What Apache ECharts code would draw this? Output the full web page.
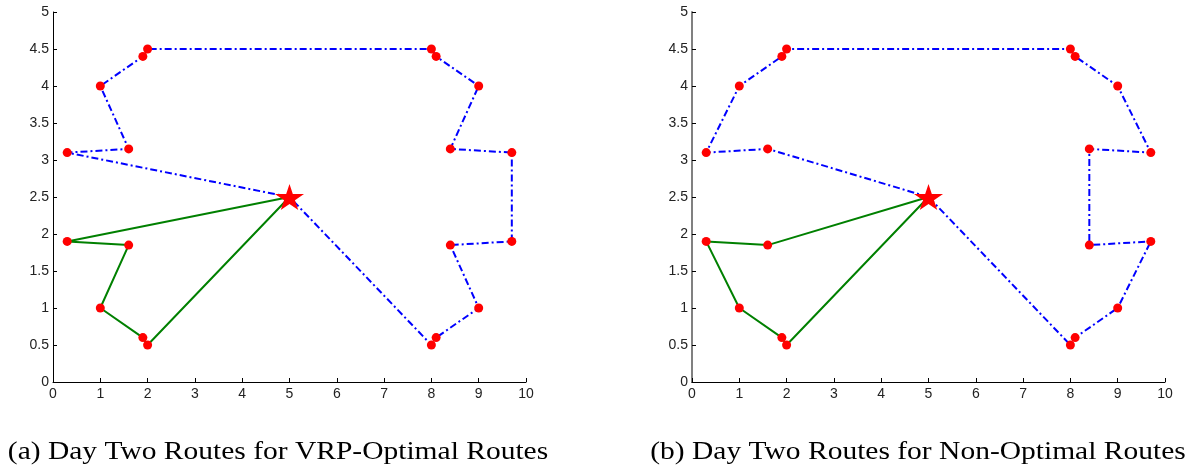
<!DOCTYPE html>
<html><head><meta charset="utf-8">
<script src="https://cdn.jsdelivr.net/npm/echarts@6/dist/echarts.min.js"></script>
<style>html,body{margin:0;padding:0;background:#fff}#c{width:1199px;height:470px}</style>
</head><body><div id="c"></div>
<script>
// Depot
const depot = [[5, 2.5]];
// (a) VRP-optimal routes
const optBlueRoute = [[5,2.5],[0.3,3.1],[1.6,3.15],[1,4],[1.9,4.4],[2,4.5],[8,4.5],[8.1,4.4],[9,4],[8.4,3.15],[9.7,3.1],[9.7,1.9],[8.4,1.85],[9,1],[8.1,0.6],[8,0.5],[5,2.5]];
const optGreenRoute = [[5,2.5],[0.3,1.9],[1.6,1.85],[1,1],[1.9,0.6],[2,0.5],[5,2.5]];
// (b) Non-optimal routes
const nonBlueRoute = [[5,2.5],[1.6,3.15],[0.3,3.1],[1,4],[1.9,4.4],[2,4.5],[8,4.5],[8.1,4.4],[9,4],[9.7,3.1],[8.4,3.15],[8.4,1.85],[9.7,1.9],[9,1],[8.1,0.6],[8,0.5],[5,2.5]];
const nonGreenRoute = [[5,2.5],[1.6,1.85],[0.3,1.9],[1,1],[1.9,0.6],[2,0.5],[5,2.5]];
// Customers (drawn as red dots)
const customers = [[0.3,3.1],[1.6,3.15],[1,4],[1.9,4.4],[2,4.5],[8,4.5],[8.1,4.4],[9,4],[8.4,3.15],[9.7,3.1],[9.7,1.9],[8.4,1.85],[9,1],[8.1,0.6],[8,0.5],[0.3,1.9],[1.6,1.85],[1,1],[1.9,0.6],[2,0.5]];
const captions = ['(a) Day Two Routes for VRP-Optimal Routes', '(b) Day Two Routes for Non-Optimal Routes'];

const starPath = 'path://M50,0 L61,35 L98,35 L68,57 L79,91 L50,70 L21,91 L32,57 L2,35 L39,35 Z';
const tickFont = {fontFamily: 'Liberation Sans, Arial, sans-serif', fontSize: 14, color: '#222'};

function xAx(i){return {gridIndex:i,type:'value',min:0,max:10,interval:1,splitLine:{show:false},
  axisLine:{onZero:false,lineStyle:{color:'#000',width:1}},axisTick:{inside:true,length:4,lineStyle:{color:'#000'}},
  axisLabel:Object.assign({margin:5},tickFont)};}
function yAx(i,c,w){return {gridIndex:i,type:'value',min:0,max:5,interval:0.5,splitLine:{show:false},
  axisLine:{show:true,onZero:false,lineStyle:{color:c,width:w}},axisTick:{show:true,inside:true,length:4,lineStyle:{color:'#000'}},
  axisLabel:Object.assign({margin:4},tickFont)};}
function routes(i, blue, green){
  return [
    {type:'line',xAxisIndex:i,yAxisIndex:i,data:blue,symbol:'none',clip:false,z:2,
      lineStyle:{color:'#0000ff',width:2,type:[7,3,2,3]}},
    {type:'line',xAxisIndex:i,yAxisIndex:i,data:green,symbol:'none',clip:false,z:2,
      lineStyle:{color:'#008000',width:2}},
    {type:'scatter',xAxisIndex:i,yAxisIndex:i,data:customers,symbol:'circle',symbolSize:9,clip:false,z:3,
      itemStyle:{color:'#ff0000',opacity:1}},
    {type:'scatter',xAxisIndex:i,yAxisIndex:i,data:depot,symbol:starPath,symbolSize:[29,26],clip:false,z:4,
      itemStyle:{color:'#ff0000',opacity:1}}
  ];
}
const capFont = '25px "Liberation Serif", "Times New Roman", serif';
const chart = echarts.init(document.getElementById('c'), null, {renderer:'canvas'});
chart.setOption({
  backgroundColor:'#fff',
  animation:false,
  grid:[{left:53,top:12,width:473,height:370},{left:692,top:12,width:473,height:370}],
  xAxis:[xAx(0),xAx(1)],
  yAxis:[yAx(0,'#000',1),yAx(1,'#808080',2)],
  series:[...routes(0,optBlueRoute,optGreenRoute),...routes(1,nonBlueRoute,nonGreenRoute)],
  graphic:[
    {type:'text',x:278,y:452,scaleX:1.18,style:{text:captions[0],align:'center',verticalAlign:'middle',font:capFont,fill:'#000'}},
    {type:'text',x:918,y:452,scaleX:1.18,style:{text:captions[1],align:'center',verticalAlign:'middle',font:capFont,fill:'#000'}}
  ]
});
</script></body></html>
